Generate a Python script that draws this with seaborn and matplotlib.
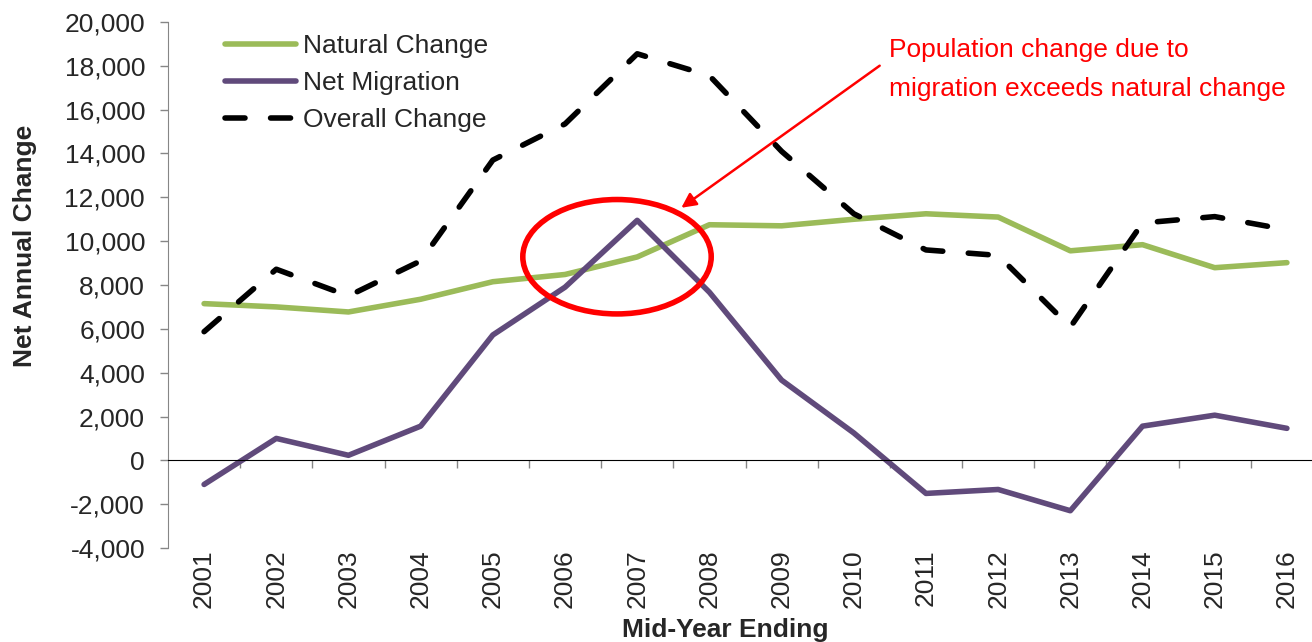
import numpy as np
import pandas as pd
import seaborn as sns
import matplotlib
matplotlib.use('Agg')
import matplotlib.pyplot as plt
from matplotlib.patches import Ellipse
from matplotlib.ticker import FuncFormatter

years = ['2001', '2002', '2003', '2004', '2005', '2006', '2007', '2008',
         '2009', '2010', '2011', '2012', '2013', '2014', '2015', '2016']
natural_change = [7150, 7000, 6770, 7350, 8150, 8480, 9280, 10750,
                  10700, 11000, 11250, 11100, 9560, 9840, 8790, 9020]
net_migration = [-1100, 1000, 230, 1560, 5720, 7900, 10950, 7670,
                 3660, 1250, -1510, -1330, -2300, 1560, 2060, 1460]
overall_change = [5870, 8720, 7500, 9100, 13700, 15350, 18550, 17550,
                  14100, 11250, 9600, 9350, 6080, 10830, 11120, 10520]
series_names = ['Natural Change', 'Net Migration', 'Overall Change']
colors = {'Natural Change': '#9BBB59', 'Net Migration': '#604A7B', 'Overall Change': '#000000'}
note = 'Population change due to\nmigration exceeds natural change'

sns.set_style('white')
plt.rcParams['font.family'] = ['Liberation Sans', 'DejaVu Sans']
FS = 19
LW = 4

pos = np.arange(len(years))
df = pd.concat([
    pd.DataFrame({'pos': pos, 'value': vals, 'series': name})
    for name, vals in zip(series_names, [natural_change, net_migration, overall_change])
])

fig = plt.figure(figsize=(13.12, 6.42), dpi=100)
ax = fig.add_axes([168 / 1312, 1 - 548 / 642, 1155 / 1312, 526 / 642])

sns.lineplot(data=df, x='pos', y='value', hue='series', style='series',
             palette=colors, hue_order=series_names, style_order=series_names,
             dashes={'Natural Change': '', 'Net Migration': '', 'Overall Change': (3.6, 4.6)},
             linewidth=LW, ax=ax, legend='auto')
for ln in ax.lines:
    ln.set_dash_capstyle('round')
    ln.set_solid_capstyle('round')

ax.set_xlim(-0.5, len(years) - 0.5)
ax.set_ylim(-4000, 20000)
ax.set_yticks(np.arange(-4000, 20001, 2000))
ax.yaxis.set_major_formatter(FuncFormatter(lambda v, p: f'{int(v):,}'))
ax.tick_params(axis='y', labelsize=FS, length=8 / 1.39, width=1, color='#868686',
               pad=15 / 1.39, left=True)

# horizontal axis crosses at 0, ticks between categories
for s in ['top', 'right']:
    ax.spines[s].set_visible(False)
ax.spines['left'].set_color('#868686')
ax.spines['bottom'].set_position(('data', 0))
ax.spines['bottom'].set_color('black')
ax.set_xticks(pos[:-1] + 0.5)
ax.set_xticklabels([])
ax.tick_params(axis='x', bottom=True, length=8 / 1.39, width=1, color='#868686', direction='out')

sec = ax.secondary_xaxis(0)
sec.set_xticks(pos, labels=years, rotation=90, fontsize=FS)
sec.tick_params(length=0, pad=1)
sec.spines['bottom'].set_visible(False)

ax.set_xlabel('')
ax.set_ylabel('Net Annual Change', fontsize=FS, fontweight='bold')
ax.yaxis.set_label_coords(-0.113, 0.575)
fig.text(725 / 1312, 1 - 630 / 642, 'Mid-Year Ending', fontsize=FS, fontweight='bold',
         ha='center', va='center')

handles, labels = ax.get_legend_handles_labels()
for h in handles:
    h.set_linewidth(LW)
    h.set_dash_capstyle('round')
    h.set_solid_capstyle('round')
ax.legend(handles, labels, loc='upper left', bbox_to_anchor=((225 - 168) / 1155, (548 - 34) / 526),
          frameon=False, fontsize=FS, handlelength=2.7, handletextpad=0.25,
          labelspacing=0.5, borderpad=0, borderaxespad=0)

# annotation: ellipse around the crossover and arrow with note
ax.add_patch(Ellipse((5.72, 9290), 2.61, 5220, fill=False, edgecolor='red', linewidth=LW, zorder=5))
ax.annotate('', xy=(6.58, 11450), xytext=(9.39, 18080),
            arrowprops=dict(arrowstyle='-|>', color='red', lw=1.8, mutation_scale=22))
ax.text(9.49, 17850, note, color='red', fontsize=FS, ha='left', va='center', linespacing=1.8)

fig.savefig('out.png', dpi=100)
